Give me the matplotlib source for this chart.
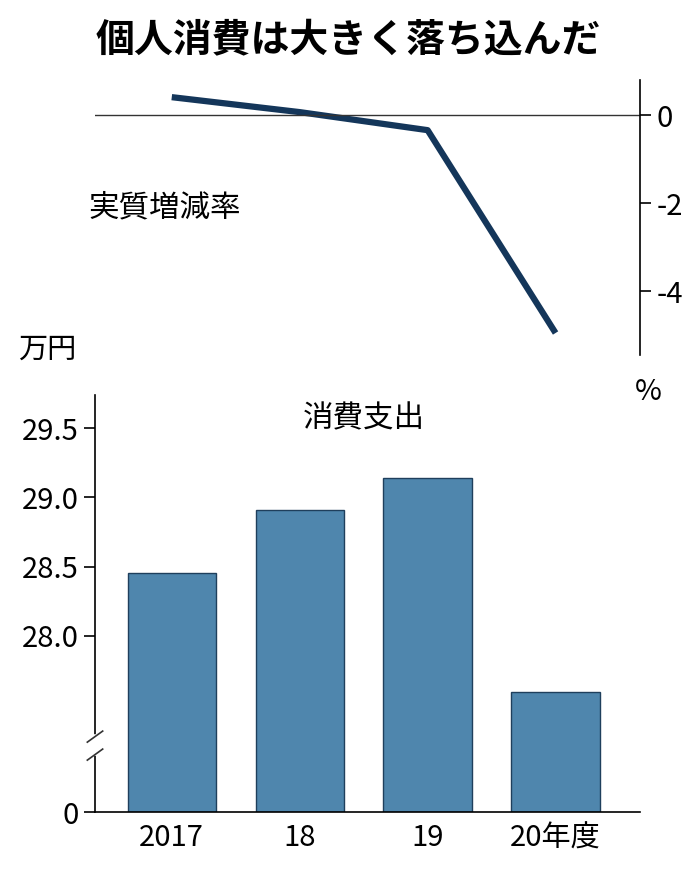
import matplotlib
matplotlib.use("Agg")
from matplotlib import pyplot as plt

plt.rcParams['font.family'] = ['Noto Sans CJK JP', 'DejaVu Sans']

years = ['2017', '18', '19', '20年度']
growth = [0.41, 0.07, -0.34, -4.95]
spending = [28.45, 28.91, 29.14, 27.59]

NAVY = '#14365a'
BAR = '#4f86ad'
BASE = 26.725   # where "0" sits on the broken axis

fig = plt.figure(figsize=(6.96, 8.82), dpi=100)
W, H = 696, 882

def box(l, t, r, b):
    return [l / W, 1 - b / H, (r - l) / W, (b - t) / H]

fig.text(0.5, 1 - 40 / H, '個人消費は大きく落ち込んだ', ha='center', va='center',
         fontsize=28, fontweight='bold')

# top: growth rate
ax1 = fig.add_axes(box(95, 80, 640, 355))
x = range(len(years))
ax1.plot(x, growth, color=NAVY, lw=4.5, solid_capstyle='butt')
ax1.axhline(0, color='#333333', lw=1, xmin=-0.01)
ax1.set_xlim(-0.6, 3.66)
ax1.set_ylim(-5.45, 0.8)
ax1.yaxis.tick_right()
ax1.set_yticks([0, -2, -4])
ax1.set_yticklabels(['0', '-2', '-4'])
ax1.tick_params(axis='y', labelsize=21, length=8, width=1.2, pad=4)
ax1.set_xticks([])
for s in ['top', 'left', 'bottom']:
    ax1.spines[s].set_visible(False)
ax1.spines['right'].set_linewidth(1.2)
ax1.text(-0.65, -2.1, '実質増減率', fontsize=22, va='center')
fig.text(648 / W, 1 - 392 / H, '%', fontsize=21, va='center', ha='center')

# bottom: spending
ax2 = fig.add_axes(box(95, 395, 640, 812))
ax2.bar(x, [v - BASE for v in spending], bottom=BASE, width=0.69,
        color=BAR, edgecolor='#1f3f5c', lw=1)
ax2.set_xlim(-0.6, 3.66)
ax2.set_ylim(BASE, 29.74)
ax2.set_yticks([BASE, 28.0, 28.5, 29.0, 29.5])
ax2.set_yticklabels(['0', '28.0', '28.5', '29.0', '29.5'])
ax2.set_xticks(list(x))
ax2.set_xticklabels(years)
ax2.tick_params(axis='y', labelsize=21, length=8, width=1.2)
ax2.tick_params(axis='x', labelsize=21, length=0, pad=8)
for s in ['top', 'right']:
    ax2.spines[s].set_visible(False)
ax2.spines['left'].set_linewidth(1.2)
ax2.spines['bottom'].set_linewidth(1.2)
# axis break
ax2.plot([-0.6, -0.6], [27.15, 27.27], color='white', lw=4, clip_on=False, zorder=5)
for yb in (27.14, 27.27):
    ax2.plot([-0.66, -0.54], [yb - 0.04, yb + 0.04], color='#333333', lw=1.2,
             clip_on=False, zorder=6)
ax2.text(1.5, 29.57, '消費支出', fontsize=22, ha='center', va='center')
fig.text(18 / W, 1 - 350 / H, '万円', fontsize=21, va='center')

fig.savefig('out.png', dpi=100, facecolor='white')
